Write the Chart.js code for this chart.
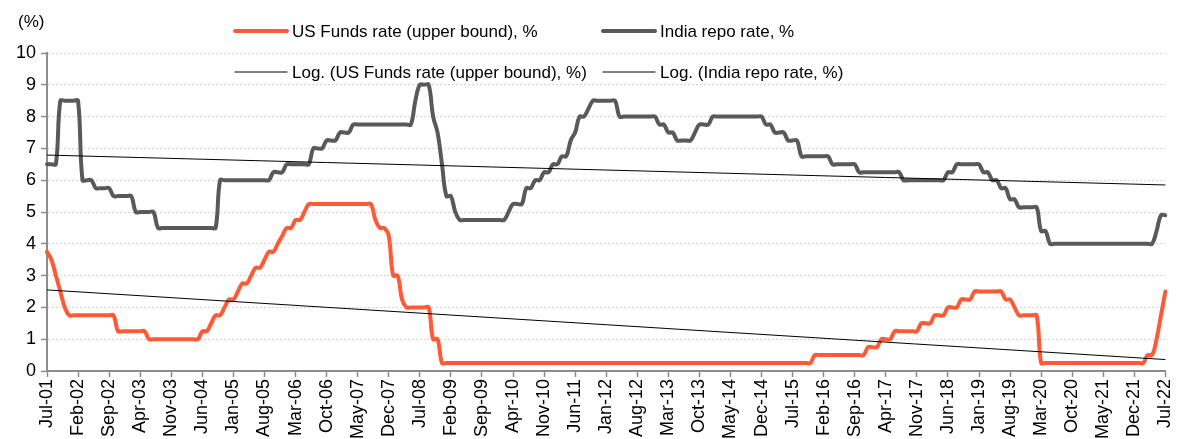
<!DOCTYPE html>
<html>
<head>
<meta charset="utf-8">
<script src="https://cdn.jsdelivr.net/npm/chart.js@4.4.1/dist/chart.umd.min.js"></script>
<style>
  html, body { margin: 0; padding: 0; background: #fff; }
  #wrap { width: 1189px; height: 439px; position: relative; }
</style>
</head>
<body>
<div id="wrap"><canvas id="ratesChart"></canvas></div>
<script>
// ─── DATA ──────────────────────────────────────────────────────────────────────
// Monthly, Jul-01 .. Jul-22 (253 months). Axis labels every 7th month.
const tickLabels = [
    'Jul-01', 'Feb-02', 'Sep-02', 'Apr-03', 'Nov-03', 'Jun-04', 'Jan-05', 'Aug-05', 'Mar-06',
    'Oct-06', 'May-07', 'Dec-07', 'Jul-08', 'Feb-09', 'Sep-09', 'Apr-10', 'Nov-10', 'Jun-11',
    'Jan-12', 'Aug-12', 'Mar-13', 'Oct-13', 'May-14', 'Dec-14', 'Jul-15', 'Feb-16', 'Sep-16',
    'Apr-17', 'Nov-17', 'Jun-18', 'Jan-19', 'Aug-19', 'Mar-20', 'Oct-20', 'May-21', 'Dec-21',
    'Jul-22'
];
const TICK_EVERY = 7;

const seriesNames = [
    'US Funds rate (upper bound), %',
    'India repo rate, %',
    'Log. (US Funds rate (upper bound), %)',
    'Log. (India repo rate, %)'
];

const usRate = [
    3.75, 3.5, 3.0, 2.5, 2.0, 1.75,                                           // 2001 Jul-Dec
    1.75, 1.75, 1.75, 1.75, 1.75, 1.75, 1.75, 1.75, 1.75, 1.75, 1.25, 1.25,   // 2002
    1.25, 1.25, 1.25, 1.25, 1.25, 1.0, 1.0, 1.0, 1.0, 1.0, 1.0, 1.0,          // 2003
    1.0, 1.0, 1.0, 1.0, 1.0, 1.25, 1.25, 1.5, 1.75, 1.75, 2.0, 2.25,          // 2004
    2.25, 2.5, 2.75, 2.75, 3.0, 3.25, 3.25, 3.5, 3.75, 3.75, 4.0, 4.25,       // 2005
    4.5, 4.5, 4.75, 4.75, 5.0, 5.25, 5.25, 5.25, 5.25, 5.25, 5.25, 5.25,      // 2006
    5.25, 5.25, 5.25, 5.25, 5.25, 5.25, 5.25, 5.25, 4.75, 4.5, 4.5, 4.25,     // 2007
    3.0, 3.0, 2.25, 2.0, 2.0, 2.0, 2.0, 2.0, 2.0, 1.0, 1.0, 0.25,             // 2008
    0.25, 0.25, 0.25, 0.25, 0.25, 0.25, 0.25, 0.25, 0.25, 0.25, 0.25, 0.25,   // 2009
    0.25, 0.25, 0.25, 0.25, 0.25, 0.25, 0.25, 0.25, 0.25, 0.25, 0.25, 0.25,   // 2010
    0.25, 0.25, 0.25, 0.25, 0.25, 0.25, 0.25, 0.25, 0.25, 0.25, 0.25, 0.25,   // 2011
    0.25, 0.25, 0.25, 0.25, 0.25, 0.25, 0.25, 0.25, 0.25, 0.25, 0.25, 0.25,   // 2012
    0.25, 0.25, 0.25, 0.25, 0.25, 0.25, 0.25, 0.25, 0.25, 0.25, 0.25, 0.25,   // 2013
    0.25, 0.25, 0.25, 0.25, 0.25, 0.25, 0.25, 0.25, 0.25, 0.25, 0.25, 0.25,   // 2014
    0.25, 0.25, 0.25, 0.25, 0.25, 0.25, 0.25, 0.25, 0.25, 0.25, 0.25, 0.5,    // 2015
    0.5, 0.5, 0.5, 0.5, 0.5, 0.5, 0.5, 0.5, 0.5, 0.5, 0.5, 0.75,              // 2016
    0.75, 0.75, 1.0, 1.0, 1.0, 1.25, 1.25, 1.25, 1.25, 1.25, 1.25, 1.5,       // 2017
    1.5, 1.5, 1.75, 1.75, 1.75, 2.0, 2.0, 2.0, 2.25, 2.25, 2.25, 2.5,         // 2018
    2.5, 2.5, 2.5, 2.5, 2.5, 2.5, 2.25, 2.25, 2.0, 1.75, 1.75, 1.75,          // 2019
    1.75, 1.75, 0.25, 0.25, 0.25, 0.25, 0.25, 0.25, 0.25, 0.25, 0.25, 0.25,   // 2020
    0.25, 0.25, 0.25, 0.25, 0.25, 0.25, 0.25, 0.25, 0.25, 0.25, 0.25, 0.25,   // 2021
    0.25, 0.25, 0.5, 0.5, 1.0, 1.75, 2.5                                      // 2022 Jan-Jul
];

const indiaRate = [
    6.5, 6.5, 6.5, 8.5, 8.5, 8.5,                                             // 2001 Jul-Dec
    8.5, 8.5, 6.0, 6.0, 6.0, 5.75, 5.75, 5.75, 5.75, 5.5, 5.5, 5.5,           // 2002
    5.5, 5.5, 5.0, 5.0, 5.0, 5.0, 5.0, 4.5, 4.5, 4.5, 4.5, 4.5,               // 2003
    4.5, 4.5, 4.5, 4.5, 4.5, 4.5, 4.5, 4.5, 4.5, 6.0, 6.0, 6.0,               // 2004
    6.0, 6.0, 6.0, 6.0, 6.0, 6.0, 6.0, 6.0, 6.0, 6.25, 6.25, 6.25,            // 2005
    6.5, 6.5, 6.5, 6.5, 6.5, 6.5, 7.0, 7.0, 7.0, 7.25, 7.25, 7.25,            // 2006
    7.5, 7.5, 7.5, 7.75, 7.75, 7.75, 7.75, 7.75, 7.75, 7.75, 7.75, 7.75,      // 2007
    7.75, 7.75, 7.75, 7.75, 7.75, 8.5, 9.0, 9.0, 9.0, 8.0, 7.5, 6.5,          // 2008
    5.5, 5.5, 5.0, 4.75, 4.75, 4.75, 4.75, 4.75, 4.75, 4.75, 4.75, 4.75,      // 2009
    4.75, 4.75, 5.0, 5.25, 5.25, 5.25, 5.75, 5.75, 6.0, 6.0, 6.25, 6.25,      // 2010
    6.5, 6.5, 6.75, 6.75, 7.25, 7.5, 8.0, 8.0, 8.25, 8.5, 8.5, 8.5,           // 2011
    8.5, 8.5, 8.5, 8.0, 8.0, 8.0, 8.0, 8.0, 8.0, 8.0, 8.0, 8.0,               // 2012
    7.75, 7.75, 7.5, 7.5, 7.25, 7.25, 7.25, 7.25, 7.5, 7.75, 7.75, 7.75,      // 2013
    8.0, 8.0, 8.0, 8.0, 8.0, 8.0, 8.0, 8.0, 8.0, 8.0, 8.0, 8.0,               // 2014
    7.75, 7.75, 7.5, 7.5, 7.5, 7.25, 7.25, 7.25, 6.75, 6.75, 6.75, 6.75,      // 2015
    6.75, 6.75, 6.75, 6.5, 6.5, 6.5, 6.5, 6.5, 6.5, 6.25, 6.25, 6.25,         // 2016
    6.25, 6.25, 6.25, 6.25, 6.25, 6.25, 6.25, 6.0, 6.0, 6.0, 6.0, 6.0,        // 2017
    6.0, 6.0, 6.0, 6.0, 6.0, 6.25, 6.25, 6.5, 6.5, 6.5, 6.5, 6.5,             // 2018
    6.5, 6.25, 6.25, 6.0, 6.0, 5.75, 5.75, 5.4, 5.4, 5.15, 5.15, 5.15,        // 2019
    5.15, 5.15, 4.4, 4.4, 4.0, 4.0, 4.0, 4.0, 4.0, 4.0, 4.0, 4.0,             // 2020
    4.0, 4.0, 4.0, 4.0, 4.0, 4.0, 4.0, 4.0, 4.0, 4.0, 4.0, 4.0,               // 2021
    4.0, 4.0, 4.0, 4.0, 4.4, 4.9, 4.9                                         // 2022 Jan-Jul
];

// Excel log trend lines, read at first and last month
const usTrend    = [2.55, 0.36];
const indiaTrend = [6.79, 5.85];

// ─── STYLE ─────────────────────────────────────────────────────────────────────
const US_COLOR    = '#ff5a36';
const INDIA_COLOR = '#595959';
const AXIS_COLOR  = '#8c8c8c';
const FONT_FAMILY = "'Liberation Sans', Arial, sans-serif";

// ─── BUILD ─────────────────────────────────────────────────────────────────────
const monthLabels = usRate.map((_, i) => (i % TICK_EVERY === 0 ? tickLabels[i / TICK_EVERY] : ''));
const lastIdx = usRate.length - 1;
const endpoints = pair => usRate.map((_, i) => (i === 0 ? pair[0] : i === lastIdx ? pair[1] : null));

// legend + "(%)" drawn by hand: Excel places the legend partly over the plot
const overlayPlugin = {
    id: 'overlay',
    afterDraw(chart) {
        const ctx = chart.ctx;
        ctx.save();
        ctx.font = `17px ${FONT_FAMILY}`;
        ctx.fillStyle = '#000';
        ctx.textBaseline = 'middle';
        ctx.textAlign = 'left';
        ctx.fillText('(%)', 18, 22);

        const items = [
            { name: seriesNames[0], color: US_COLOR,    w: 4, x: 235, y: 31 },
            { name: seriesNames[1], color: INDIA_COLOR, w: 4, x: 603, y: 31 },
            { name: seriesNames[2], color: '#000',      w: 1, x: 235, y: 72 },
            { name: seriesNames[3], color: '#000',      w: 1, x: 603, y: 72 }
        ];
        items.forEach(it => {
            ctx.beginPath();
            ctx.strokeStyle = it.color;
            ctx.lineWidth = it.w;
            ctx.lineCap = 'round';
            ctx.moveTo(it.x, it.y);
            ctx.lineTo(it.x + 52, it.y);
            ctx.stroke();
            ctx.fillText(it.name, it.x + 57, it.y + 1);
        });
        ctx.restore();
    }
};

new Chart(document.getElementById('ratesChart'), {
    type: 'line',
    data: {
        labels: monthLabels,
        datasets: [
            {
                label: seriesNames[0],
                data: usRate,
                borderColor: US_COLOR,
                borderWidth: 4,
                pointRadius: 0,
                tension: 0.4,
                borderJoinStyle: 'round',
                borderCapStyle: 'round',
                order: 2
            },
            {
                label: seriesNames[1],
                data: indiaRate,
                borderColor: INDIA_COLOR,
                borderWidth: 4,
                pointRadius: 0,
                tension: 0.4,
                borderJoinStyle: 'round',
                borderCapStyle: 'round',
                order: 1
            },
            {
                label: seriesNames[2],
                data: endpoints(usTrend),
                borderColor: '#000',
                borderWidth: 1,
                pointRadius: 0,
                spanGaps: true,
                order: 0
            },
            {
                label: seriesNames[3],
                data: endpoints(indiaTrend),
                borderColor: '#000',
                borderWidth: 1,
                pointRadius: 0,
                spanGaps: true,
                order: 0
            }
        ]
    },
    options: {
        responsive: true,
        maintainAspectRatio: false,
        animation: false,
        layout: { padding: { top: 53, right: 14, left: 0, bottom: 0 } },
        plugins: {
            legend: { display: false },
            tooltip: { enabled: false }
        },
        scales: {
            x: {
                afterFit: s => { s.height = 68; },
                grid: {
                    drawOnChartArea: false,
                    drawTicks: true,
                    tickLength: 6,
                    tickColor: AXIS_COLOR,
                    tickWidth: 1.5
                },
                border: { color: AXIS_COLOR, width: 2 },
                ticks: {
                    autoSkip: false,
                    minRotation: 90,
                    maxRotation: 90,
                    padding: 2,
                    color: '#000',
                    font: { family: FONT_FAMILY, size: 18 },
                    callback: (val, idx) => (idx % TICK_EVERY === 0 ? monthLabels[idx] : null)
                }
            },
            y: {
                min: 0,
                max: 10,
                afterFit: s => { s.width = 47; },
                grid: {
                    color: '#d4d4d4',
                    lineWidth: 1,
                    drawTicks: true,
                    tickLength: 6,
                    tickColor: AXIS_COLOR,
                    tickWidth: 1.5,
                    tickBorderDash: []
                },
                border: { color: AXIS_COLOR, width: 2, dash: [2, 2] },
                ticks: {
                    stepSize: 1,
                    padding: 5,
                    color: '#000',
                    font: { family: FONT_FAMILY, size: 18 }
                }
            }
        }
    },
    plugins: [overlayPlugin]
});
</script>
</body>
</html>
